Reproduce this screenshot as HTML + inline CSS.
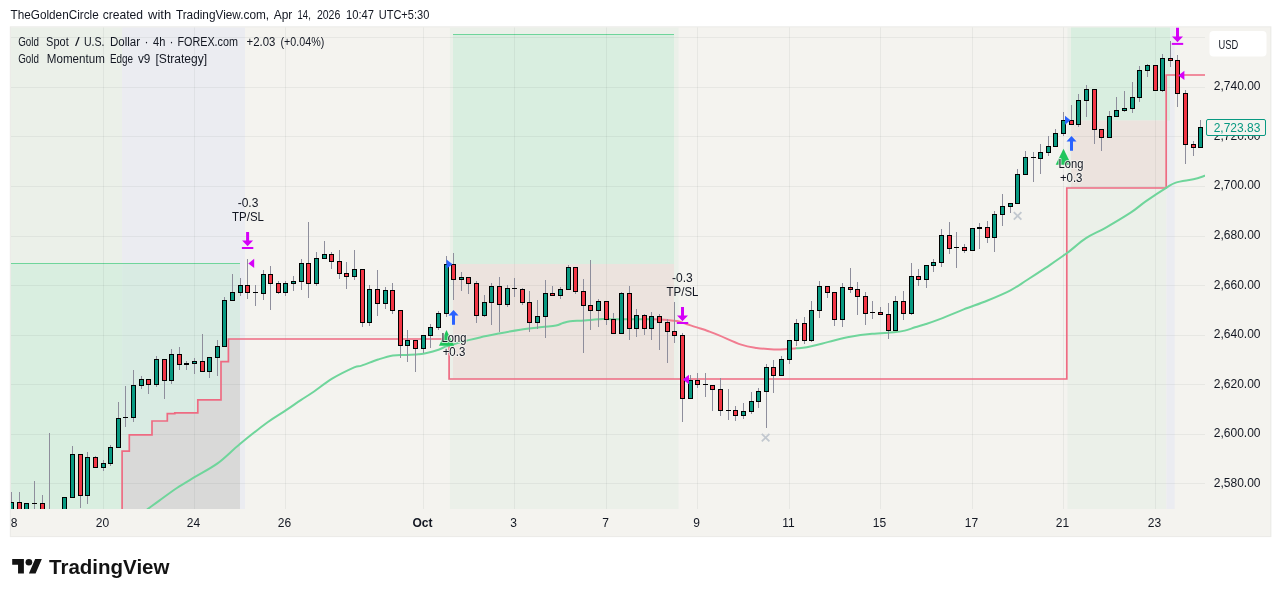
<!DOCTYPE html>
<html><head><meta charset="utf-8"><title>Gold Spot / U.S. Dollar chart</title>
<style>html,body{margin:0;padding:0;background:#fff;}body{width:1281px;height:597px;position:relative;overflow:hidden;font-family:"Liberation Sans",sans-serif;}</style>
</head><body>
<svg width="1281" height="597" viewBox="0 0 1281 597" style="position:absolute;left:0;top:0;will-change:transform" font-family="'Liberation Sans', sans-serif">
<rect x="9.8" y="26.3" width="1261.6" height="510.8" fill="#ecebe8"/>
<rect x="11" y="27.4" width="1259.2" height="508.6" fill="#f4f3ef"/>
<clipPath id="cp"><rect x="11" y="27.4" width="1194" height="481.6"/></clipPath>
<g clip-path="url(#cp)">
<rect x="10" y="27" width="112.1" height="482" fill="#ebf0e9"/>
<rect x="122.1" y="27" width="122.9" height="482" fill="#ebecf1"/>
<rect x="449.9" y="27" width="228.7" height="482" fill="#ebf0e9"/>
<rect x="1067.4" y="27" width="99.1" height="482" fill="#ebf0e9"/>
<rect x="1166.5" y="27" width="8.2" height="482" fill="#ebecf1"/>
<rect x="10" y="263.5" width="112.1" height="245.5" fill="#d9eee0"/>
<rect x="122.1" y="263.5" width="117.9" height="245.5" fill="#d9ebe3"/>
<polygon points="122.1,520.0 122.1,451.2 129.3,451.2 129.3,434.8 152.0,434.8 152.0,421.0 167.3,421.0 167.3,413.7 174.8,413.7 174.8,412.8 197.8,412.8 197.8,399.9 221.0,399.9 221.0,361.7 228.4,361.7 228.4,339.0 240.0,339.0 240.0,520.0" fill="#d9d9d8"/>
<line x1="10" y1="263.5" x2="240.0" y2="263.5" stroke="#6fd59b" stroke-width="1"/>
<rect x="453.0" y="34.5" width="221.0" height="229.5" fill="#d9eee0"/>
<rect x="453.0" y="264" width="221.0" height="115" fill="#ece3de"/>
<line x1="453.0" y1="34.5" x2="674.0" y2="34.5" stroke="#6fd59b" stroke-width="1.2"/>
<rect x="1071.0" y="27" width="99.0" height="93.5" fill="#d9eee0"/>
<rect x="1071.0" y="120.5" width="96.0" height="67.5" fill="#ece3de"/>
<rect x="10" y="37" width="1195" height="1" fill="rgba(20,30,40,0.055)"/>
<rect x="10" y="87" width="1195" height="1" fill="rgba(20,30,40,0.055)"/>
<rect x="10" y="136" width="1195" height="1" fill="rgba(20,30,40,0.055)"/>
<rect x="10" y="186" width="1195" height="1" fill="rgba(20,30,40,0.055)"/>
<rect x="10" y="236" width="1195" height="1" fill="rgba(20,30,40,0.055)"/>
<rect x="10" y="285" width="1195" height="1" fill="rgba(20,30,40,0.055)"/>
<rect x="10" y="335" width="1195" height="1" fill="rgba(20,30,40,0.055)"/>
<rect x="10" y="384" width="1195" height="1" fill="rgba(20,30,40,0.055)"/>
<rect x="10" y="434" width="1195" height="1" fill="rgba(20,30,40,0.055)"/>
<rect x="10" y="483" width="1195" height="1" fill="rgba(20,30,40,0.055)"/>
<rect x="103" y="27" width="1" height="482" fill="rgba(20,30,40,0.055)"/>
<rect x="194" y="27" width="1" height="482" fill="rgba(20,30,40,0.055)"/>
<rect x="285" y="27" width="1" height="482" fill="rgba(20,30,40,0.055)"/>
<rect x="423" y="27" width="1" height="482" fill="rgba(20,30,40,0.055)"/>
<rect x="514" y="27" width="1" height="482" fill="rgba(20,30,40,0.055)"/>
<rect x="606" y="27" width="1" height="482" fill="rgba(20,30,40,0.055)"/>
<rect x="697" y="27" width="1" height="482" fill="rgba(20,30,40,0.055)"/>
<rect x="789" y="27" width="1" height="482" fill="rgba(20,30,40,0.055)"/>
<rect x="880" y="27" width="1" height="482" fill="rgba(20,30,40,0.055)"/>
<rect x="972" y="27" width="1" height="482" fill="rgba(20,30,40,0.055)"/>
<rect x="1063" y="27" width="1" height="482" fill="rgba(20,30,40,0.055)"/>
<rect x="1155" y="27" width="1" height="482" fill="rgba(20,30,40,0.055)"/>
<polyline points="122.1,520.0 122.1,451.2 129.3,451.2 129.3,434.8 152.0,434.8 152.0,421.0 167.3,421.0 167.3,413.7 174.8,413.7 174.8,412.8 197.8,412.8 197.8,399.9 221.0,399.9 221.0,361.7 228.4,361.7 228.4,339.0 449.1,339.0 449.1,379.0 1066.8,379.0 1066.8,188.0 1166.2,188.0 1166.2,75.0 1206.0,75.0" fill="none" stroke="#ee6b82" stroke-width="1.7" stroke-linejoin="miter"/>
<clipPath id="mg1"><rect x="0" y="0" width="654" height="597"/></clipPath>
<clipPath id="mp"><rect x="654" y="0" width="142" height="597"/></clipPath>
<clipPath id="mg2"><rect x="796" y="0" width="1281" height="597"/></clipPath>
<g clip-path="url(#mg1)"><path d="M147.6 509.1C149.6 507.7 154.4 504.1 159.3 500.6C164.2 497.1 171.0 491.9 176.9 488.0C182.8 484.1 187.7 481.3 194.5 477.2C201.3 473.1 210.3 468.6 217.9 463.1C225.5 457.6 231.6 450.8 239.9 444.0C248.2 437.2 259.9 427.9 267.6 422.3C275.3 416.7 280.6 413.9 286.1 410.2C291.6 406.5 296.2 403.2 300.8 400.1C305.4 397.0 308.5 395.4 313.7 391.8C318.9 388.2 325.4 382.8 332.1 378.7C338.9 374.6 349.3 369.6 354.2 367.4C359.1 365.2 357.6 366.9 361.6 365.6C365.6 364.3 373.0 361.2 378.2 359.5C383.4 357.8 388.1 356.2 392.9 355.4C397.6 354.6 402.4 355.1 406.7 354.9C411.0 354.7 415.2 354.5 418.5 354.2C421.8 353.9 423.4 353.8 426.7 353.0C430.0 352.2 435.4 350.7 438.5 349.7C441.6 348.7 442.9 347.6 445.2 346.8C447.4 346.0 448.4 345.7 452.0 344.6C455.6 343.6 462.3 341.7 467.0 340.5C471.7 339.3 474.7 338.5 480.0 337.4C485.3 336.2 491.9 334.9 498.6 333.6C505.3 332.3 513.0 330.8 520.3 329.7C527.5 328.6 536.1 327.8 542.1 327.1C548.1 326.4 552.5 326.2 556.0 325.5C559.5 324.8 560.6 323.7 563.0 323.0C565.4 322.3 566.6 321.6 570.2 321.2C573.8 320.8 579.0 320.9 584.5 320.5C590.0 320.1 597.3 319.3 603.0 319.1C608.7 318.9 612.4 319.3 618.6 319.3C624.8 319.3 634.1 319.3 640.0 319.3C645.9 319.3 649.4 319.2 654.0 319.3C658.6 319.4 663.6 319.7 667.4 320.0C671.2 320.3 673.7 320.4 676.8 321.1C679.9 321.8 682.9 322.9 686.2 324.0C689.6 325.1 693.3 326.2 696.9 327.4C700.5 328.6 703.9 329.6 707.7 331.0C711.5 332.4 714.1 333.3 719.7 335.6C725.3 337.9 735.1 342.6 741.2 344.6C747.3 346.7 751.0 347.1 756.5 347.9C762.0 348.7 768.8 349.2 773.9 349.4C779.0 349.6 783.3 349.2 787.0 349.0C790.7 348.8 792.7 348.6 796.0 348.3C799.3 348.0 801.4 348.4 806.8 347.3C812.2 346.2 821.4 343.7 828.6 341.9C835.9 340.1 843.0 338.0 850.3 336.7C857.5 335.4 864.8 334.5 872.1 333.8C879.4 333.1 888.5 332.8 893.9 332.3C899.3 331.8 901.3 331.4 904.8 330.6C908.3 329.8 911.5 328.4 915.0 327.3C918.5 326.2 922.2 325.2 926.0 324.0C929.8 322.8 931.5 322.3 937.8 319.9C944.1 317.5 955.5 312.6 963.7 309.4C971.9 306.2 979.2 303.9 987.0 300.7C994.8 297.5 1003.8 293.8 1010.5 290.3C1017.2 286.9 1021.1 283.7 1027.0 280.0C1032.8 276.3 1039.0 272.3 1045.6 267.9C1052.2 263.4 1060.0 258.2 1066.7 253.3C1073.4 248.4 1079.5 242.4 1086.0 238.2C1092.5 233.9 1098.1 232.1 1105.5 227.8C1112.9 223.6 1123.9 217.1 1130.6 212.7C1137.3 208.3 1139.8 205.5 1145.7 201.4C1151.6 197.3 1160.8 191.2 1165.8 188.1C1170.8 185.0 1171.2 184.1 1175.8 182.6C1180.4 181.1 1188.6 180.4 1193.4 179.3C1198.2 178.2 1202.8 176.4 1204.7 175.8" fill="none" stroke="#6fd59b" stroke-width="2" stroke-linejoin="round" stroke-linecap="round"/></g>
<g clip-path="url(#mp)"><path d="M147.6 509.1C149.6 507.7 154.4 504.1 159.3 500.6C164.2 497.1 171.0 491.9 176.9 488.0C182.8 484.1 187.7 481.3 194.5 477.2C201.3 473.1 210.3 468.6 217.9 463.1C225.5 457.6 231.6 450.8 239.9 444.0C248.2 437.2 259.9 427.9 267.6 422.3C275.3 416.7 280.6 413.9 286.1 410.2C291.6 406.5 296.2 403.2 300.8 400.1C305.4 397.0 308.5 395.4 313.7 391.8C318.9 388.2 325.4 382.8 332.1 378.7C338.9 374.6 349.3 369.6 354.2 367.4C359.1 365.2 357.6 366.9 361.6 365.6C365.6 364.3 373.0 361.2 378.2 359.5C383.4 357.8 388.1 356.2 392.9 355.4C397.6 354.6 402.4 355.1 406.7 354.9C411.0 354.7 415.2 354.5 418.5 354.2C421.8 353.9 423.4 353.8 426.7 353.0C430.0 352.2 435.4 350.7 438.5 349.7C441.6 348.7 442.9 347.6 445.2 346.8C447.4 346.0 448.4 345.7 452.0 344.6C455.6 343.6 462.3 341.7 467.0 340.5C471.7 339.3 474.7 338.5 480.0 337.4C485.3 336.2 491.9 334.9 498.6 333.6C505.3 332.3 513.0 330.8 520.3 329.7C527.5 328.6 536.1 327.8 542.1 327.1C548.1 326.4 552.5 326.2 556.0 325.5C559.5 324.8 560.6 323.7 563.0 323.0C565.4 322.3 566.6 321.6 570.2 321.2C573.8 320.8 579.0 320.9 584.5 320.5C590.0 320.1 597.3 319.3 603.0 319.1C608.7 318.9 612.4 319.3 618.6 319.3C624.8 319.3 634.1 319.3 640.0 319.3C645.9 319.3 649.4 319.2 654.0 319.3C658.6 319.4 663.6 319.7 667.4 320.0C671.2 320.3 673.7 320.4 676.8 321.1C679.9 321.8 682.9 322.9 686.2 324.0C689.6 325.1 693.3 326.2 696.9 327.4C700.5 328.6 703.9 329.6 707.7 331.0C711.5 332.4 714.1 333.3 719.7 335.6C725.3 337.9 735.1 342.6 741.2 344.6C747.3 346.7 751.0 347.1 756.5 347.9C762.0 348.7 768.8 349.2 773.9 349.4C779.0 349.6 783.3 349.2 787.0 349.0C790.7 348.8 792.7 348.6 796.0 348.3C799.3 348.0 801.4 348.4 806.8 347.3C812.2 346.2 821.4 343.7 828.6 341.9C835.9 340.1 843.0 338.0 850.3 336.7C857.5 335.4 864.8 334.5 872.1 333.8C879.4 333.1 888.5 332.8 893.9 332.3C899.3 331.8 901.3 331.4 904.8 330.6C908.3 329.8 911.5 328.4 915.0 327.3C918.5 326.2 922.2 325.2 926.0 324.0C929.8 322.8 931.5 322.3 937.8 319.9C944.1 317.5 955.5 312.6 963.7 309.4C971.9 306.2 979.2 303.9 987.0 300.7C994.8 297.5 1003.8 293.8 1010.5 290.3C1017.2 286.9 1021.1 283.7 1027.0 280.0C1032.8 276.3 1039.0 272.3 1045.6 267.9C1052.2 263.4 1060.0 258.2 1066.7 253.3C1073.4 248.4 1079.5 242.4 1086.0 238.2C1092.5 233.9 1098.1 232.1 1105.5 227.8C1112.9 223.6 1123.9 217.1 1130.6 212.7C1137.3 208.3 1139.8 205.5 1145.7 201.4C1151.6 197.3 1160.8 191.2 1165.8 188.1C1170.8 185.0 1171.2 184.1 1175.8 182.6C1180.4 181.1 1188.6 180.4 1193.4 179.3C1198.2 178.2 1202.8 176.4 1204.7 175.8" fill="none" stroke="#f17c90" stroke-width="2" stroke-linejoin="round" stroke-linecap="round"/></g>
<g clip-path="url(#mg2)"><path d="M147.6 509.1C149.6 507.7 154.4 504.1 159.3 500.6C164.2 497.1 171.0 491.9 176.9 488.0C182.8 484.1 187.7 481.3 194.5 477.2C201.3 473.1 210.3 468.6 217.9 463.1C225.5 457.6 231.6 450.8 239.9 444.0C248.2 437.2 259.9 427.9 267.6 422.3C275.3 416.7 280.6 413.9 286.1 410.2C291.6 406.5 296.2 403.2 300.8 400.1C305.4 397.0 308.5 395.4 313.7 391.8C318.9 388.2 325.4 382.8 332.1 378.7C338.9 374.6 349.3 369.6 354.2 367.4C359.1 365.2 357.6 366.9 361.6 365.6C365.6 364.3 373.0 361.2 378.2 359.5C383.4 357.8 388.1 356.2 392.9 355.4C397.6 354.6 402.4 355.1 406.7 354.9C411.0 354.7 415.2 354.5 418.5 354.2C421.8 353.9 423.4 353.8 426.7 353.0C430.0 352.2 435.4 350.7 438.5 349.7C441.6 348.7 442.9 347.6 445.2 346.8C447.4 346.0 448.4 345.7 452.0 344.6C455.6 343.6 462.3 341.7 467.0 340.5C471.7 339.3 474.7 338.5 480.0 337.4C485.3 336.2 491.9 334.9 498.6 333.6C505.3 332.3 513.0 330.8 520.3 329.7C527.5 328.6 536.1 327.8 542.1 327.1C548.1 326.4 552.5 326.2 556.0 325.5C559.5 324.8 560.6 323.7 563.0 323.0C565.4 322.3 566.6 321.6 570.2 321.2C573.8 320.8 579.0 320.9 584.5 320.5C590.0 320.1 597.3 319.3 603.0 319.1C608.7 318.9 612.4 319.3 618.6 319.3C624.8 319.3 634.1 319.3 640.0 319.3C645.9 319.3 649.4 319.2 654.0 319.3C658.6 319.4 663.6 319.7 667.4 320.0C671.2 320.3 673.7 320.4 676.8 321.1C679.9 321.8 682.9 322.9 686.2 324.0C689.6 325.1 693.3 326.2 696.9 327.4C700.5 328.6 703.9 329.6 707.7 331.0C711.5 332.4 714.1 333.3 719.7 335.6C725.3 337.9 735.1 342.6 741.2 344.6C747.3 346.7 751.0 347.1 756.5 347.9C762.0 348.7 768.8 349.2 773.9 349.4C779.0 349.6 783.3 349.2 787.0 349.0C790.7 348.8 792.7 348.6 796.0 348.3C799.3 348.0 801.4 348.4 806.8 347.3C812.2 346.2 821.4 343.7 828.6 341.9C835.9 340.1 843.0 338.0 850.3 336.7C857.5 335.4 864.8 334.5 872.1 333.8C879.4 333.1 888.5 332.8 893.9 332.3C899.3 331.8 901.3 331.4 904.8 330.6C908.3 329.8 911.5 328.4 915.0 327.3C918.5 326.2 922.2 325.2 926.0 324.0C929.8 322.8 931.5 322.3 937.8 319.9C944.1 317.5 955.5 312.6 963.7 309.4C971.9 306.2 979.2 303.9 987.0 300.7C994.8 297.5 1003.8 293.8 1010.5 290.3C1017.2 286.9 1021.1 283.7 1027.0 280.0C1032.8 276.3 1039.0 272.3 1045.6 267.9C1052.2 263.4 1060.0 258.2 1066.7 253.3C1073.4 248.4 1079.5 242.4 1086.0 238.2C1092.5 233.9 1098.1 232.1 1105.5 227.8C1112.9 223.6 1123.9 217.1 1130.6 212.7C1137.3 208.3 1139.8 205.5 1145.7 201.4C1151.6 197.3 1160.8 191.2 1165.8 188.1C1170.8 185.0 1171.2 184.1 1175.8 182.6C1180.4 181.1 1188.6 180.4 1193.4 179.3C1198.2 178.2 1202.8 176.4 1204.7 175.8" fill="none" stroke="#6fd59b" stroke-width="2" stroke-linejoin="round" stroke-linecap="round"/></g>
<rect x="11" y="492" width="1" height="23" fill="#8e8e9c"/>
<rect x="9" y="502" width="5" height="13" fill="#000"/>
<rect x="10" y="503" width="3" height="11" fill="#089981"/>
<rect x="19" y="492" width="1" height="23" fill="#8e8e9c"/>
<rect x="17" y="502" width="5" height="13" fill="#000"/>
<rect x="18" y="503" width="3" height="11" fill="#f23645"/>
<rect x="26" y="503" width="1" height="12" fill="#8e8e9c"/>
<rect x="24" y="503" width="5" height="12" fill="#000"/>
<rect x="25" y="504" width="3" height="10" fill="#089981"/>
<rect x="34" y="481" width="1" height="34" fill="#8e8e9c"/>
<rect x="32" y="503" width="5" height="1" fill="#000"/>
<rect x="42" y="495" width="1" height="20" fill="#8e8e9c"/>
<rect x="40" y="503" width="5" height="12" fill="#000"/>
<rect x="41" y="504" width="3" height="10" fill="#f23645"/>
<rect x="49" y="433" width="1" height="82" fill="#8e8e9c"/>
<rect x="47" y="520" width="5" height="1" fill="#000"/>
<rect x="64" y="497" width="1" height="18" fill="#8e8e9c"/>
<rect x="62" y="497" width="5" height="18" fill="#000"/>
<rect x="63" y="498" width="3" height="16" fill="#089981"/>
<rect x="72" y="446" width="1" height="52" fill="#8e8e9c"/>
<rect x="70" y="454" width="5" height="44" fill="#000"/>
<rect x="71" y="455" width="3" height="42" fill="#089981"/>
<rect x="80" y="454" width="1" height="54" fill="#8e8e9c"/>
<rect x="78" y="454" width="5" height="42" fill="#000"/>
<rect x="79" y="455" width="3" height="40" fill="#f23645"/>
<rect x="87" y="452" width="1" height="52" fill="#8e8e9c"/>
<rect x="85" y="457" width="5" height="39" fill="#000"/>
<rect x="86" y="458" width="3" height="37" fill="#089981"/>
<rect x="95" y="456" width="1" height="12" fill="#8e8e9c"/>
<rect x="93" y="457" width="5" height="11" fill="#000"/>
<rect x="94" y="458" width="3" height="9" fill="#f23645"/>
<rect x="103" y="460" width="1" height="11" fill="#8e8e9c"/>
<rect x="101" y="463" width="5" height="5" fill="#000"/>
<rect x="102" y="464" width="3" height="3" fill="#089981"/>
<rect x="110" y="445" width="1" height="21" fill="#8e8e9c"/>
<rect x="108" y="447" width="5" height="17" fill="#000"/>
<rect x="109" y="448" width="3" height="15" fill="#089981"/>
<rect x="118" y="402" width="1" height="46" fill="#8e8e9c"/>
<rect x="116" y="418" width="5" height="30" fill="#000"/>
<rect x="117" y="419" width="3" height="28" fill="#089981"/>
<rect x="125" y="386" width="1" height="41" fill="#8e8e9c"/>
<rect x="123" y="417" width="5" height="1" fill="#000"/>
<rect x="133" y="370" width="1" height="52" fill="#8e8e9c"/>
<rect x="131" y="385" width="5" height="33" fill="#000"/>
<rect x="132" y="386" width="3" height="31" fill="#089981"/>
<rect x="141" y="376" width="1" height="13" fill="#8e8e9c"/>
<rect x="139" y="379" width="5" height="7" fill="#000"/>
<rect x="140" y="380" width="3" height="5" fill="#089981"/>
<rect x="148" y="379" width="1" height="15" fill="#8e8e9c"/>
<rect x="146" y="379" width="5" height="6" fill="#000"/>
<rect x="147" y="380" width="3" height="4" fill="#f23645"/>
<rect x="156" y="356" width="1" height="31" fill="#8e8e9c"/>
<rect x="154" y="359" width="5" height="26" fill="#000"/>
<rect x="155" y="360" width="3" height="24" fill="#089981"/>
<rect x="164" y="359" width="1" height="40" fill="#8e8e9c"/>
<rect x="162" y="359" width="5" height="22" fill="#000"/>
<rect x="163" y="360" width="3" height="20" fill="#f23645"/>
<rect x="171" y="349" width="1" height="35" fill="#8e8e9c"/>
<rect x="169" y="354" width="5" height="27" fill="#000"/>
<rect x="170" y="355" width="3" height="25" fill="#089981"/>
<rect x="179" y="347" width="1" height="23" fill="#8e8e9c"/>
<rect x="177" y="354" width="5" height="11" fill="#000"/>
<rect x="178" y="355" width="3" height="9" fill="#f23645"/>
<rect x="186" y="361" width="1" height="9" fill="#8e8e9c"/>
<rect x="184" y="363" width="5" height="2" fill="#000"/>
<rect x="194" y="358" width="1" height="16" fill="#8e8e9c"/>
<rect x="192" y="361" width="5" height="3" fill="#000"/>
<rect x="193" y="362" width="3" height="1" fill="#089981"/>
<rect x="202" y="334" width="1" height="38" fill="#8e8e9c"/>
<rect x="200" y="361" width="5" height="11" fill="#000"/>
<rect x="201" y="362" width="3" height="9" fill="#f23645"/>
<rect x="209" y="357" width="1" height="21" fill="#8e8e9c"/>
<rect x="207" y="357" width="5" height="15" fill="#000"/>
<rect x="208" y="358" width="3" height="13" fill="#089981"/>
<rect x="217" y="340" width="1" height="36" fill="#8e8e9c"/>
<rect x="215" y="346" width="5" height="12" fill="#000"/>
<rect x="216" y="347" width="3" height="10" fill="#089981"/>
<rect x="224" y="297" width="1" height="50" fill="#8e8e9c"/>
<rect x="222" y="300" width="5" height="47" fill="#000"/>
<rect x="223" y="301" width="3" height="45" fill="#089981"/>
<rect x="232" y="274" width="1" height="27" fill="#8e8e9c"/>
<rect x="230" y="292" width="5" height="9" fill="#000"/>
<rect x="231" y="293" width="3" height="7" fill="#089981"/>
<rect x="240" y="278" width="1" height="18" fill="#8e8e9c"/>
<rect x="238" y="285" width="5" height="8" fill="#000"/>
<rect x="239" y="286" width="3" height="6" fill="#089981"/>
<rect x="247" y="259" width="1" height="40" fill="#8e8e9c"/>
<rect x="245" y="285" width="5" height="8" fill="#000"/>
<rect x="246" y="286" width="3" height="6" fill="#f23645"/>
<rect x="255" y="285" width="1" height="21" fill="#8e8e9c"/>
<rect x="253" y="292" width="5" height="1" fill="#000"/>
<rect x="263" y="270" width="1" height="30" fill="#8e8e9c"/>
<rect x="261" y="274" width="5" height="20" fill="#000"/>
<rect x="262" y="275" width="3" height="18" fill="#089981"/>
<rect x="270" y="266" width="1" height="44" fill="#8e8e9c"/>
<rect x="268" y="274" width="5" height="10" fill="#000"/>
<rect x="269" y="275" width="3" height="8" fill="#f23645"/>
<rect x="278" y="281" width="1" height="13" fill="#8e8e9c"/>
<rect x="276" y="283" width="5" height="10" fill="#000"/>
<rect x="277" y="284" width="3" height="8" fill="#f23645"/>
<rect x="285" y="281" width="1" height="15" fill="#8e8e9c"/>
<rect x="283" y="283" width="5" height="10" fill="#000"/>
<rect x="284" y="284" width="3" height="8" fill="#089981"/>
<rect x="293" y="276" width="1" height="15" fill="#8e8e9c"/>
<rect x="291" y="281" width="5" height="3" fill="#000"/>
<rect x="292" y="282" width="3" height="1" fill="#089981"/>
<rect x="301" y="259" width="1" height="31" fill="#8e8e9c"/>
<rect x="299" y="263" width="5" height="19" fill="#000"/>
<rect x="300" y="264" width="3" height="17" fill="#089981"/>
<rect x="308" y="222" width="1" height="76" fill="#8e8e9c"/>
<rect x="306" y="263" width="5" height="21" fill="#000"/>
<rect x="307" y="264" width="3" height="19" fill="#f23645"/>
<rect x="316" y="252" width="1" height="34" fill="#8e8e9c"/>
<rect x="314" y="258" width="5" height="26" fill="#000"/>
<rect x="315" y="259" width="3" height="24" fill="#089981"/>
<rect x="324" y="241" width="1" height="18" fill="#8e8e9c"/>
<rect x="322" y="254" width="5" height="5" fill="#000"/>
<rect x="323" y="255" width="3" height="3" fill="#089981"/>
<rect x="331" y="252" width="1" height="17" fill="#8e8e9c"/>
<rect x="329" y="254" width="5" height="8" fill="#000"/>
<rect x="330" y="255" width="3" height="6" fill="#f23645"/>
<rect x="339" y="250" width="1" height="29" fill="#8e8e9c"/>
<rect x="337" y="261" width="5" height="13" fill="#000"/>
<rect x="338" y="262" width="3" height="11" fill="#f23645"/>
<rect x="346" y="262" width="1" height="27" fill="#8e8e9c"/>
<rect x="344" y="273" width="5" height="4" fill="#000"/>
<rect x="345" y="274" width="3" height="2" fill="#f23645"/>
<rect x="354" y="250" width="1" height="30" fill="#8e8e9c"/>
<rect x="352" y="269" width="5" height="8" fill="#000"/>
<rect x="353" y="270" width="3" height="6" fill="#089981"/>
<rect x="362" y="269" width="1" height="58" fill="#8e8e9c"/>
<rect x="360" y="269" width="5" height="54" fill="#000"/>
<rect x="361" y="270" width="3" height="52" fill="#f23645"/>
<rect x="369" y="285" width="1" height="41" fill="#8e8e9c"/>
<rect x="367" y="289" width="5" height="34" fill="#000"/>
<rect x="368" y="290" width="3" height="32" fill="#089981"/>
<rect x="377" y="270" width="1" height="46" fill="#8e8e9c"/>
<rect x="375" y="289" width="5" height="15" fill="#000"/>
<rect x="376" y="290" width="3" height="13" fill="#f23645"/>
<rect x="385" y="287" width="1" height="22" fill="#8e8e9c"/>
<rect x="383" y="290" width="5" height="14" fill="#000"/>
<rect x="384" y="291" width="3" height="12" fill="#089981"/>
<rect x="392" y="283" width="1" height="31" fill="#8e8e9c"/>
<rect x="390" y="290" width="5" height="21" fill="#000"/>
<rect x="391" y="291" width="3" height="19" fill="#f23645"/>
<rect x="400" y="310" width="1" height="48" fill="#8e8e9c"/>
<rect x="398" y="310" width="5" height="36" fill="#000"/>
<rect x="399" y="311" width="3" height="34" fill="#f23645"/>
<rect x="407" y="330" width="1" height="32" fill="#8e8e9c"/>
<rect x="405" y="340" width="5" height="6" fill="#000"/>
<rect x="406" y="341" width="3" height="4" fill="#089981"/>
<rect x="415" y="340" width="1" height="32" fill="#8e8e9c"/>
<rect x="413" y="340" width="5" height="9" fill="#000"/>
<rect x="414" y="341" width="3" height="7" fill="#f23645"/>
<rect x="423" y="335" width="1" height="18" fill="#8e8e9c"/>
<rect x="421" y="335" width="5" height="14" fill="#000"/>
<rect x="422" y="336" width="3" height="12" fill="#089981"/>
<rect x="430" y="324" width="1" height="24" fill="#8e8e9c"/>
<rect x="428" y="327" width="5" height="9" fill="#000"/>
<rect x="429" y="328" width="3" height="7" fill="#089981"/>
<rect x="438" y="311" width="1" height="19" fill="#8e8e9c"/>
<rect x="436" y="313" width="5" height="15" fill="#000"/>
<rect x="437" y="314" width="3" height="13" fill="#089981"/>
<rect x="446" y="256" width="1" height="61" fill="#8e8e9c"/>
<rect x="444" y="264" width="5" height="50" fill="#000"/>
<rect x="445" y="265" width="3" height="48" fill="#089981"/>
<rect x="453" y="253" width="1" height="47" fill="#8e8e9c"/>
<rect x="451" y="264" width="5" height="16" fill="#000"/>
<rect x="452" y="265" width="3" height="14" fill="#f23645"/>
<rect x="461" y="272" width="1" height="19" fill="#8e8e9c"/>
<rect x="459" y="277" width="5" height="3" fill="#000"/>
<rect x="460" y="278" width="3" height="1" fill="#089981"/>
<rect x="468" y="277" width="1" height="17" fill="#8e8e9c"/>
<rect x="466" y="277" width="5" height="7" fill="#000"/>
<rect x="467" y="278" width="3" height="5" fill="#f23645"/>
<rect x="476" y="281" width="1" height="42" fill="#8e8e9c"/>
<rect x="474" y="283" width="5" height="33" fill="#000"/>
<rect x="475" y="284" width="3" height="31" fill="#f23645"/>
<rect x="484" y="295" width="1" height="22" fill="#8e8e9c"/>
<rect x="482" y="302" width="5" height="14" fill="#000"/>
<rect x="483" y="303" width="3" height="12" fill="#089981"/>
<rect x="491" y="283" width="1" height="42" fill="#8e8e9c"/>
<rect x="489" y="286" width="5" height="17" fill="#000"/>
<rect x="490" y="287" width="3" height="15" fill="#089981"/>
<rect x="499" y="277" width="1" height="55" fill="#8e8e9c"/>
<rect x="497" y="286" width="5" height="19" fill="#000"/>
<rect x="498" y="287" width="3" height="17" fill="#f23645"/>
<rect x="507" y="285" width="1" height="22" fill="#8e8e9c"/>
<rect x="505" y="288" width="5" height="17" fill="#000"/>
<rect x="506" y="289" width="3" height="15" fill="#089981"/>
<rect x="514" y="278" width="1" height="19" fill="#8e8e9c"/>
<rect x="512" y="288" width="5" height="1" fill="#000"/>
<rect x="522" y="288" width="1" height="17" fill="#8e8e9c"/>
<rect x="520" y="289" width="5" height="14" fill="#000"/>
<rect x="521" y="290" width="3" height="12" fill="#f23645"/>
<rect x="529" y="291" width="1" height="41" fill="#8e8e9c"/>
<rect x="527" y="302" width="5" height="21" fill="#000"/>
<rect x="528" y="303" width="3" height="19" fill="#f23645"/>
<rect x="537" y="300" width="1" height="29" fill="#8e8e9c"/>
<rect x="535" y="316" width="5" height="7" fill="#000"/>
<rect x="536" y="317" width="3" height="5" fill="#089981"/>
<rect x="545" y="280" width="1" height="58" fill="#8e8e9c"/>
<rect x="543" y="293" width="5" height="24" fill="#000"/>
<rect x="544" y="294" width="3" height="22" fill="#089981"/>
<rect x="552" y="286" width="1" height="10" fill="#8e8e9c"/>
<rect x="550" y="293" width="5" height="3" fill="#000"/>
<rect x="551" y="294" width="3" height="1" fill="#f23645"/>
<rect x="560" y="287" width="1" height="12" fill="#8e8e9c"/>
<rect x="558" y="289" width="5" height="7" fill="#000"/>
<rect x="559" y="290" width="3" height="5" fill="#089981"/>
<rect x="568" y="265" width="1" height="25" fill="#8e8e9c"/>
<rect x="566" y="267" width="5" height="23" fill="#000"/>
<rect x="567" y="268" width="3" height="21" fill="#089981"/>
<rect x="575" y="267" width="1" height="27" fill="#8e8e9c"/>
<rect x="573" y="267" width="5" height="25" fill="#000"/>
<rect x="574" y="268" width="3" height="23" fill="#f23645"/>
<rect x="583" y="279" width="1" height="74" fill="#8e8e9c"/>
<rect x="581" y="291" width="5" height="15" fill="#000"/>
<rect x="582" y="292" width="3" height="13" fill="#f23645"/>
<rect x="590" y="260" width="1" height="70" fill="#8e8e9c"/>
<rect x="588" y="305" width="5" height="6" fill="#000"/>
<rect x="589" y="306" width="3" height="4" fill="#f23645"/>
<rect x="598" y="299" width="1" height="28" fill="#8e8e9c"/>
<rect x="596" y="301" width="5" height="10" fill="#000"/>
<rect x="597" y="302" width="3" height="8" fill="#089981"/>
<rect x="606" y="301" width="1" height="24" fill="#8e8e9c"/>
<rect x="604" y="301" width="5" height="19" fill="#000"/>
<rect x="605" y="302" width="3" height="17" fill="#f23645"/>
<rect x="613" y="313" width="1" height="21" fill="#8e8e9c"/>
<rect x="611" y="319" width="5" height="15" fill="#000"/>
<rect x="612" y="320" width="3" height="13" fill="#f23645"/>
<rect x="621" y="292" width="1" height="42" fill="#8e8e9c"/>
<rect x="619" y="293" width="5" height="41" fill="#000"/>
<rect x="620" y="294" width="3" height="39" fill="#089981"/>
<rect x="629" y="286" width="1" height="54" fill="#8e8e9c"/>
<rect x="627" y="293" width="5" height="36" fill="#000"/>
<rect x="628" y="294" width="3" height="34" fill="#f23645"/>
<rect x="636" y="309" width="1" height="28" fill="#8e8e9c"/>
<rect x="634" y="315" width="5" height="14" fill="#000"/>
<rect x="635" y="316" width="3" height="12" fill="#089981"/>
<rect x="644" y="314" width="1" height="21" fill="#8e8e9c"/>
<rect x="642" y="315" width="5" height="14" fill="#000"/>
<rect x="643" y="316" width="3" height="12" fill="#f23645"/>
<rect x="651" y="312" width="1" height="28" fill="#8e8e9c"/>
<rect x="649" y="316" width="5" height="13" fill="#000"/>
<rect x="650" y="317" width="3" height="11" fill="#089981"/>
<rect x="659" y="314" width="1" height="36" fill="#8e8e9c"/>
<rect x="657" y="316" width="5" height="7" fill="#000"/>
<rect x="658" y="317" width="3" height="5" fill="#f23645"/>
<rect x="667" y="319" width="1" height="44" fill="#8e8e9c"/>
<rect x="665" y="322" width="5" height="10" fill="#000"/>
<rect x="666" y="323" width="3" height="8" fill="#f23645"/>
<rect x="674" y="302" width="1" height="41" fill="#8e8e9c"/>
<rect x="672" y="331" width="5" height="5" fill="#000"/>
<rect x="673" y="332" width="3" height="3" fill="#f23645"/>
<rect x="682" y="333" width="1" height="89" fill="#8e8e9c"/>
<rect x="680" y="335" width="5" height="64" fill="#000"/>
<rect x="681" y="336" width="3" height="62" fill="#f23645"/>
<rect x="690" y="375" width="1" height="24" fill="#8e8e9c"/>
<rect x="688" y="380" width="5" height="19" fill="#000"/>
<rect x="689" y="381" width="3" height="17" fill="#089981"/>
<rect x="697" y="373" width="1" height="15" fill="#8e8e9c"/>
<rect x="695" y="380" width="5" height="5" fill="#000"/>
<rect x="696" y="381" width="3" height="3" fill="#f23645"/>
<rect x="705" y="373" width="1" height="24" fill="#8e8e9c"/>
<rect x="703" y="384" width="5" height="1" fill="#000"/>
<rect x="712" y="385" width="1" height="26" fill="#8e8e9c"/>
<rect x="710" y="385" width="5" height="5" fill="#000"/>
<rect x="711" y="386" width="3" height="3" fill="#f23645"/>
<rect x="720" y="378" width="1" height="38" fill="#8e8e9c"/>
<rect x="718" y="389" width="5" height="22" fill="#000"/>
<rect x="719" y="390" width="3" height="20" fill="#f23645"/>
<rect x="728" y="389" width="1" height="31" fill="#8e8e9c"/>
<rect x="726" y="410" width="5" height="1" fill="#000"/>
<rect x="735" y="406" width="1" height="15" fill="#8e8e9c"/>
<rect x="733" y="410" width="5" height="6" fill="#000"/>
<rect x="734" y="411" width="3" height="4" fill="#f23645"/>
<rect x="743" y="403" width="1" height="16" fill="#8e8e9c"/>
<rect x="741" y="411" width="5" height="5" fill="#000"/>
<rect x="742" y="412" width="3" height="3" fill="#089981"/>
<rect x="751" y="392" width="1" height="22" fill="#8e8e9c"/>
<rect x="749" y="401" width="5" height="11" fill="#000"/>
<rect x="750" y="402" width="3" height="9" fill="#089981"/>
<rect x="758" y="388" width="1" height="20" fill="#8e8e9c"/>
<rect x="756" y="391" width="5" height="11" fill="#000"/>
<rect x="757" y="392" width="3" height="9" fill="#089981"/>
<rect x="766" y="364" width="1" height="64" fill="#8e8e9c"/>
<rect x="764" y="367" width="5" height="25" fill="#000"/>
<rect x="765" y="368" width="3" height="23" fill="#089981"/>
<rect x="773" y="360" width="1" height="33" fill="#8e8e9c"/>
<rect x="771" y="367" width="5" height="9" fill="#000"/>
<rect x="772" y="368" width="3" height="7" fill="#f23645"/>
<rect x="781" y="356" width="1" height="20" fill="#8e8e9c"/>
<rect x="779" y="359" width="5" height="17" fill="#000"/>
<rect x="780" y="360" width="3" height="15" fill="#089981"/>
<rect x="789" y="340" width="1" height="24" fill="#8e8e9c"/>
<rect x="787" y="340" width="5" height="20" fill="#000"/>
<rect x="788" y="341" width="3" height="18" fill="#089981"/>
<rect x="796" y="319" width="1" height="27" fill="#8e8e9c"/>
<rect x="794" y="323" width="5" height="18" fill="#000"/>
<rect x="795" y="324" width="3" height="16" fill="#089981"/>
<rect x="804" y="317" width="1" height="27" fill="#8e8e9c"/>
<rect x="802" y="323" width="5" height="18" fill="#000"/>
<rect x="803" y="324" width="3" height="16" fill="#f23645"/>
<rect x="811" y="301" width="1" height="41" fill="#8e8e9c"/>
<rect x="809" y="310" width="5" height="31" fill="#000"/>
<rect x="810" y="311" width="3" height="29" fill="#089981"/>
<rect x="819" y="281" width="1" height="37" fill="#8e8e9c"/>
<rect x="817" y="286" width="5" height="25" fill="#000"/>
<rect x="818" y="287" width="3" height="23" fill="#089981"/>
<rect x="827" y="286" width="1" height="12" fill="#8e8e9c"/>
<rect x="825" y="286" width="5" height="7" fill="#000"/>
<rect x="826" y="287" width="3" height="5" fill="#f23645"/>
<rect x="834" y="292" width="1" height="34" fill="#8e8e9c"/>
<rect x="832" y="292" width="5" height="28" fill="#000"/>
<rect x="833" y="293" width="3" height="26" fill="#f23645"/>
<rect x="842" y="283" width="1" height="44" fill="#8e8e9c"/>
<rect x="840" y="287" width="5" height="33" fill="#000"/>
<rect x="841" y="288" width="3" height="31" fill="#089981"/>
<rect x="850" y="268" width="1" height="25" fill="#8e8e9c"/>
<rect x="848" y="287" width="5" height="3" fill="#000"/>
<rect x="849" y="288" width="3" height="1" fill="#f23645"/>
<rect x="857" y="282" width="1" height="33" fill="#8e8e9c"/>
<rect x="855" y="289" width="5" height="8" fill="#000"/>
<rect x="856" y="290" width="3" height="6" fill="#f23645"/>
<rect x="865" y="292" width="1" height="33" fill="#8e8e9c"/>
<rect x="863" y="296" width="5" height="18" fill="#000"/>
<rect x="864" y="297" width="3" height="16" fill="#f23645"/>
<rect x="872" y="301" width="1" height="18" fill="#8e8e9c"/>
<rect x="870" y="312" width="5" height="1" fill="#000"/>
<rect x="880" y="307" width="1" height="8" fill="#8e8e9c"/>
<rect x="878" y="312" width="5" height="3" fill="#000"/>
<rect x="879" y="313" width="3" height="1" fill="#f23645"/>
<rect x="888" y="303" width="1" height="36" fill="#8e8e9c"/>
<rect x="886" y="314" width="5" height="17" fill="#000"/>
<rect x="887" y="315" width="3" height="15" fill="#f23645"/>
<rect x="895" y="296" width="1" height="35" fill="#8e8e9c"/>
<rect x="893" y="301" width="5" height="30" fill="#000"/>
<rect x="894" y="302" width="3" height="28" fill="#089981"/>
<rect x="903" y="291" width="1" height="29" fill="#8e8e9c"/>
<rect x="901" y="301" width="5" height="13" fill="#000"/>
<rect x="902" y="302" width="3" height="11" fill="#f23645"/>
<rect x="911" y="263" width="1" height="52" fill="#8e8e9c"/>
<rect x="909" y="276" width="5" height="38" fill="#000"/>
<rect x="910" y="277" width="3" height="36" fill="#089981"/>
<rect x="918" y="269" width="1" height="17" fill="#8e8e9c"/>
<rect x="916" y="276" width="5" height="4" fill="#000"/>
<rect x="917" y="277" width="3" height="2" fill="#f23645"/>
<rect x="926" y="265" width="1" height="23" fill="#8e8e9c"/>
<rect x="924" y="265" width="5" height="15" fill="#000"/>
<rect x="925" y="266" width="3" height="13" fill="#089981"/>
<rect x="933" y="259" width="1" height="13" fill="#8e8e9c"/>
<rect x="931" y="262" width="5" height="4" fill="#000"/>
<rect x="932" y="263" width="3" height="2" fill="#089981"/>
<rect x="941" y="229" width="1" height="38" fill="#8e8e9c"/>
<rect x="939" y="235" width="5" height="28" fill="#000"/>
<rect x="940" y="236" width="3" height="26" fill="#089981"/>
<rect x="949" y="222" width="1" height="32" fill="#8e8e9c"/>
<rect x="947" y="235" width="5" height="14" fill="#000"/>
<rect x="948" y="236" width="3" height="12" fill="#f23645"/>
<rect x="956" y="232" width="1" height="36" fill="#8e8e9c"/>
<rect x="954" y="247" width="5" height="1" fill="#000"/>
<rect x="964" y="244" width="1" height="9" fill="#8e8e9c"/>
<rect x="962" y="247" width="5" height="4" fill="#000"/>
<rect x="963" y="248" width="3" height="2" fill="#f23645"/>
<rect x="972" y="228" width="1" height="23" fill="#8e8e9c"/>
<rect x="970" y="228" width="5" height="23" fill="#000"/>
<rect x="971" y="229" width="3" height="21" fill="#089981"/>
<rect x="979" y="223" width="1" height="26" fill="#8e8e9c"/>
<rect x="977" y="227" width="5" height="2" fill="#000"/>
<rect x="987" y="221" width="1" height="22" fill="#8e8e9c"/>
<rect x="985" y="227" width="5" height="11" fill="#000"/>
<rect x="986" y="228" width="3" height="9" fill="#f23645"/>
<rect x="994" y="211" width="1" height="41" fill="#8e8e9c"/>
<rect x="992" y="214" width="5" height="24" fill="#000"/>
<rect x="993" y="215" width="3" height="22" fill="#089981"/>
<rect x="1002" y="194" width="1" height="32" fill="#8e8e9c"/>
<rect x="1000" y="206" width="5" height="9" fill="#000"/>
<rect x="1001" y="207" width="3" height="7" fill="#089981"/>
<rect x="1010" y="203" width="1" height="10" fill="#8e8e9c"/>
<rect x="1008" y="203" width="5" height="4" fill="#000"/>
<rect x="1009" y="204" width="3" height="2" fill="#089981"/>
<rect x="1017" y="169" width="1" height="35" fill="#8e8e9c"/>
<rect x="1015" y="174" width="5" height="30" fill="#000"/>
<rect x="1016" y="175" width="3" height="28" fill="#089981"/>
<rect x="1025" y="151" width="1" height="24" fill="#8e8e9c"/>
<rect x="1023" y="157" width="5" height="18" fill="#000"/>
<rect x="1024" y="158" width="3" height="16" fill="#089981"/>
<rect x="1033" y="152" width="1" height="30" fill="#8e8e9c"/>
<rect x="1031" y="157" width="5" height="1" fill="#000"/>
<rect x="1040" y="144" width="1" height="30" fill="#8e8e9c"/>
<rect x="1038" y="152" width="5" height="7" fill="#000"/>
<rect x="1039" y="153" width="3" height="5" fill="#089981"/>
<rect x="1048" y="136" width="1" height="20" fill="#8e8e9c"/>
<rect x="1046" y="146" width="5" height="7" fill="#000"/>
<rect x="1047" y="147" width="3" height="5" fill="#089981"/>
<rect x="1055" y="129" width="1" height="18" fill="#8e8e9c"/>
<rect x="1053" y="133" width="5" height="14" fill="#000"/>
<rect x="1054" y="134" width="3" height="12" fill="#089981"/>
<rect x="1063" y="112" width="1" height="24" fill="#8e8e9c"/>
<rect x="1061" y="120" width="5" height="14" fill="#000"/>
<rect x="1062" y="121" width="3" height="12" fill="#089981"/>
<rect x="1071" y="105" width="1" height="20" fill="#8e8e9c"/>
<rect x="1069" y="120" width="5" height="5" fill="#000"/>
<rect x="1070" y="121" width="3" height="3" fill="#f23645"/>
<rect x="1078" y="94" width="1" height="33" fill="#8e8e9c"/>
<rect x="1076" y="100" width="5" height="25" fill="#000"/>
<rect x="1077" y="101" width="3" height="23" fill="#089981"/>
<rect x="1086" y="85" width="1" height="32" fill="#8e8e9c"/>
<rect x="1084" y="89" width="5" height="12" fill="#000"/>
<rect x="1085" y="90" width="3" height="10" fill="#089981"/>
<rect x="1094" y="89" width="1" height="55" fill="#8e8e9c"/>
<rect x="1092" y="89" width="5" height="41" fill="#000"/>
<rect x="1093" y="90" width="3" height="39" fill="#f23645"/>
<rect x="1101" y="129" width="1" height="22" fill="#8e8e9c"/>
<rect x="1099" y="129" width="5" height="9" fill="#000"/>
<rect x="1100" y="130" width="3" height="7" fill="#f23645"/>
<rect x="1109" y="111" width="1" height="27" fill="#8e8e9c"/>
<rect x="1107" y="116" width="5" height="22" fill="#000"/>
<rect x="1108" y="117" width="3" height="20" fill="#089981"/>
<rect x="1116" y="97" width="1" height="20" fill="#8e8e9c"/>
<rect x="1114" y="110" width="5" height="7" fill="#000"/>
<rect x="1115" y="111" width="3" height="5" fill="#089981"/>
<rect x="1124" y="91" width="1" height="21" fill="#8e8e9c"/>
<rect x="1122" y="108" width="5" height="3" fill="#000"/>
<rect x="1123" y="109" width="3" height="1" fill="#089981"/>
<rect x="1132" y="82" width="1" height="31" fill="#8e8e9c"/>
<rect x="1130" y="97" width="5" height="12" fill="#000"/>
<rect x="1131" y="98" width="3" height="10" fill="#089981"/>
<rect x="1139" y="66" width="1" height="36" fill="#8e8e9c"/>
<rect x="1137" y="70" width="5" height="28" fill="#000"/>
<rect x="1138" y="71" width="3" height="26" fill="#089981"/>
<rect x="1147" y="64" width="1" height="13" fill="#8e8e9c"/>
<rect x="1145" y="65" width="5" height="6" fill="#000"/>
<rect x="1146" y="66" width="3" height="4" fill="#089981"/>
<rect x="1155" y="65" width="1" height="26" fill="#8e8e9c"/>
<rect x="1153" y="65" width="5" height="26" fill="#000"/>
<rect x="1154" y="66" width="3" height="24" fill="#f23645"/>
<rect x="1162" y="54" width="1" height="38" fill="#8e8e9c"/>
<rect x="1160" y="58" width="5" height="33" fill="#000"/>
<rect x="1161" y="59" width="3" height="31" fill="#089981"/>
<rect x="1170" y="41" width="1" height="26" fill="#8e8e9c"/>
<rect x="1168" y="58" width="5" height="3" fill="#000"/>
<rect x="1169" y="59" width="3" height="1" fill="#f23645"/>
<rect x="1177" y="55" width="1" height="52" fill="#8e8e9c"/>
<rect x="1175" y="60" width="5" height="34" fill="#000"/>
<rect x="1176" y="61" width="3" height="32" fill="#f23645"/>
<rect x="1185" y="90" width="1" height="74" fill="#8e8e9c"/>
<rect x="1183" y="93" width="5" height="52" fill="#000"/>
<rect x="1184" y="94" width="3" height="50" fill="#f23645"/>
<rect x="1193" y="141" width="1" height="15" fill="#8e8e9c"/>
<rect x="1191" y="144" width="5" height="4" fill="#000"/>
<rect x="1192" y="145" width="3" height="2" fill="#f23645"/>
<rect x="1200" y="120" width="1" height="28" fill="#8e8e9c"/>
<rect x="1198" y="127" width="5" height="21" fill="#000"/>
<rect x="1199" y="128" width="3" height="19" fill="#089981"/>
<path d="M761.8 433.8L769.4 441.4M769.4 433.8L761.8 441.4" stroke="#c2c8cf" stroke-width="1.8" fill="none"/>
<path d="M1013.8 212.1L1021.4 219.7M1021.4 212.1L1013.8 219.7" stroke="#c2c8cf" stroke-width="1.8" fill="none"/>
<path d="M246.1 232H249.1V240.5H253.1L247.6 246.3L242.1 240.5H246.1Z" fill="#d500f9"/><rect x="241.9" y="247.0" width="11.4" height="2" fill="#d500f9"/>
<path d="M248.3 263.4L254.2 258.79999999999995V268.0Z" fill="#d500f9"/>
<path d="M681.0 307H684.0V315.5H688.0L682.5 321.3L677.0 315.5H681.0Z" fill="#d500f9"/><rect x="676.8" y="322.0" width="11.4" height="2" fill="#d500f9"/>
<path d="M682.7 379.5L689 374.7V384.3Z" fill="#d500f9"/>
<path d="M1176.0 27.5H1179.0V36.400000000000006H1183.0L1177.5 42.2L1172.0 36.400000000000006H1176.0Z" fill="#d500f9"/><rect x="1171.8" y="42.900000000000006" width="11.4" height="2" fill="#d500f9"/>
<path d="M1178.3 75.4L1184.4 70.7V80.10000000000001Z" fill="#d500f9"/>
<path d="M452.5 264.2L446.5 259.59999999999997V268.8Z" fill="#2962ff"/>
<path d="M1070.5 120.3L1065 115.8V124.8Z" fill="#2962ff"/>
<path d="M453.5 310L458.5 315.5H455.0V324.7H452.0V315.5H448.5Z" fill="#2962ff"/>
<path d="M1071.5 136L1076.5 141.5H1073.0V150.8H1070.0V141.5H1066.5Z" fill="#2962ff"/>
<path d="M446.5 330L454.0 345.8H439.0Z" fill="#1fc65c"/>
<path d="M1063.5 148.8L1071.3 164.8H1055.7Z" fill="#1fc65c"/>
<text x="237.7" y="206.8" font-size="12" textLength="20.7" lengthAdjust="spacingAndGlyphs" fill="#131722">-0.3</text>
<text x="232.1" y="220.6" font-size="12" textLength="31.8" lengthAdjust="spacingAndGlyphs" fill="#131722">TP/SL</text>
<text x="672.1" y="282" font-size="12" textLength="20.7" lengthAdjust="spacingAndGlyphs" fill="#131722">-0.3</text>
<text x="666.6" y="295.5" font-size="12" textLength="31.8" lengthAdjust="spacingAndGlyphs" fill="#131722">TP/SL</text>
<text x="441.6" y="341.9" font-size="12" textLength="24.8" lengthAdjust="spacingAndGlyphs" fill="#131722" stroke="#f4f3ef" stroke-width="2" stroke-linejoin="round" paint-order="stroke" stroke-opacity="0.8">Long</text>
<text x="442.7" y="355.9" font-size="12" textLength="22.6" lengthAdjust="spacingAndGlyphs" fill="#131722" stroke="#f4f3ef" stroke-width="2" stroke-linejoin="round" paint-order="stroke" stroke-opacity="0.8">+0.3</text>
<text x="1058.6" y="168.2" font-size="12" textLength="24.8" lengthAdjust="spacingAndGlyphs" fill="#131722" stroke="#f4f3ef" stroke-width="2" stroke-linejoin="round" paint-order="stroke" stroke-opacity="0.8">Long</text>
<text x="1059.9" y="182.0" font-size="12" textLength="22.6" lengthAdjust="spacingAndGlyphs" fill="#131722" stroke="#f4f3ef" stroke-width="2" stroke-linejoin="round" paint-order="stroke" stroke-opacity="0.8">+0.3</text>
</g>
<text x="1237.2" y="90.3" font-size="12" text-anchor="middle" fill="#131722">2,740.00</text>
<text x="1237.2" y="139.9" font-size="12" text-anchor="middle" fill="#131722">2,720.00</text>
<text x="1237.2" y="189.4" font-size="12" text-anchor="middle" fill="#131722">2,700.00</text>
<text x="1237.2" y="239.0" font-size="12" text-anchor="middle" fill="#131722">2,680.00</text>
<text x="1237.2" y="288.6" font-size="12" text-anchor="middle" fill="#131722">2,660.00</text>
<text x="1237.2" y="338.1" font-size="12" text-anchor="middle" fill="#131722">2,640.00</text>
<text x="1237.2" y="387.6" font-size="12" text-anchor="middle" fill="#131722">2,620.00</text>
<text x="1237.2" y="437.2" font-size="12" text-anchor="middle" fill="#131722">2,600.00</text>
<text x="1237.2" y="486.8" font-size="12" text-anchor="middle" fill="#131722">2,580.00</text>
<rect x="1206.5" y="119.5" width="59" height="16" rx="1.5" fill="#f4f3ef" stroke="#089981" stroke-width="1"/>
<text x="1237" y="131.7" font-size="12" text-anchor="middle" fill="#089981">2,723.83</text>
<rect x="1209.5" y="31" width="57" height="25.5" rx="4" fill="#ffffff"/>
<text x="1218.5" y="48.7" font-size="12" fill="#131722" textLength="19.7" lengthAdjust="spacingAndGlyphs">USD</text>
<text x="102.5" y="527" font-size="12" text-anchor="middle" fill="#131722">20</text>
<text x="193.5" y="527" font-size="12" text-anchor="middle" fill="#131722">24</text>
<text x="284.5" y="527" font-size="12" text-anchor="middle" fill="#131722">26</text>
<text x="422.5" y="527" font-size="12" text-anchor="middle" fill="#131722" font-weight="bold">Oct</text>
<text x="513.5" y="527" font-size="12" text-anchor="middle" fill="#131722">3</text>
<text x="605.5" y="527" font-size="12" text-anchor="middle" fill="#131722">7</text>
<text x="696.5" y="527" font-size="12" text-anchor="middle" fill="#131722">9</text>
<text x="788.5" y="527" font-size="12" text-anchor="middle" fill="#131722">11</text>
<text x="879.5" y="527" font-size="12" text-anchor="middle" fill="#131722">15</text>
<text x="971.5" y="527" font-size="12" text-anchor="middle" fill="#131722">17</text>
<text x="1062.5" y="527" font-size="12" text-anchor="middle" fill="#131722">21</text>
<text x="1154.5" y="527" font-size="12" text-anchor="middle" fill="#131722">23</text>
<text x="10.8" y="527" font-size="12" fill="#131722">8</text>
<text x="10.6" y="18.5" font-size="12.8" fill="#131722" textLength="88.1" lengthAdjust="spacingAndGlyphs">TheGoldenCircle</text><text x="102.7" y="18.5" font-size="12.8" fill="#131722" textLength="40.3" lengthAdjust="spacingAndGlyphs">created</text><text x="148" y="18.5" font-size="12.8" fill="#131722" textLength="23.2" lengthAdjust="spacingAndGlyphs">with</text><text x="175.9" y="18.5" font-size="12.8" fill="#131722" textLength="93.2" lengthAdjust="spacingAndGlyphs">TradingView.com,</text><text x="273.7" y="18.5" font-size="12.8" fill="#131722" textLength="18.6" lengthAdjust="spacingAndGlyphs">Apr</text><text x="297.5" y="18.5" font-size="12.8" fill="#131722" textLength="13.3" lengthAdjust="spacingAndGlyphs">14,</text><text x="316.9" y="18.5" font-size="12.8" fill="#131722" textLength="23.4" lengthAdjust="spacingAndGlyphs">2026</text><text x="346" y="18.5" font-size="12.8" fill="#131722" textLength="28.0" lengthAdjust="spacingAndGlyphs">10:47</text><text x="378.7" y="18.5" font-size="12.8" fill="#131722" textLength="50.6" lengthAdjust="spacingAndGlyphs">UTC+5:30</text>
<text x="18.2" y="45.5" font-size="12" fill="#131722" textLength="20.7" lengthAdjust="spacingAndGlyphs">Gold</text><text x="46.1" y="45.5" font-size="12" fill="#131722" textLength="22.6" lengthAdjust="spacingAndGlyphs">Spot</text><text x="74.9" y="45.5" font-size="12" fill="#131722" textLength="4.7" lengthAdjust="spacingAndGlyphs">/</text><text x="83.9" y="45.5" font-size="12" fill="#131722" textLength="20.6" lengthAdjust="spacingAndGlyphs">U.S.</text><text x="110" y="45.5" font-size="12" fill="#131722" textLength="30.1" lengthAdjust="spacingAndGlyphs">Dollar</text><text x="146.5" y="45.5" font-size="12" text-anchor="middle" fill="#131722">·</text><text x="153" y="45.5" font-size="12" fill="#131722" textLength="12.3" lengthAdjust="spacingAndGlyphs">4h</text><text x="171.5" y="45.5" font-size="12" text-anchor="middle" fill="#131722">·</text><text x="177.4" y="45.5" font-size="12" fill="#131722" textLength="60.6" lengthAdjust="spacingAndGlyphs">FOREX.com</text><text x="246.5" y="45.5" font-size="12" fill="#131722" textLength="28.8" lengthAdjust="spacingAndGlyphs">+2.03</text><text x="280.5" y="45.5" font-size="12" fill="#131722" textLength="43.8" lengthAdjust="spacingAndGlyphs">(+0.04%)</text>
<text x="18.2" y="62.7" font-size="12" fill="#131722" textLength="20.7" lengthAdjust="spacingAndGlyphs">Gold</text><text x="46.8" y="62.7" font-size="12" fill="#131722" textLength="58.0" lengthAdjust="spacingAndGlyphs">Momentum</text><text x="110" y="62.7" font-size="12" fill="#131722" textLength="23.1" lengthAdjust="spacingAndGlyphs">Edge</text><text x="138" y="62.7" font-size="12" fill="#131722" textLength="12.4" lengthAdjust="spacingAndGlyphs">v9</text><text x="155.5" y="62.7" font-size="12" fill="#131722" textLength="51.6" lengthAdjust="spacingAndGlyphs">[Strategy]</text>
<g transform="translate(12.2,555.8) scale(0.835,0.806)" fill="#131313"><path d="M14 22H7V11H0V4h14v18zM28 22h-8l7.5-18h8L28 22z"/><circle cx="20" cy="8" r="4"/></g>
<text x="49" y="573.6" font-size="20.3" font-weight="bold" fill="#131313" textLength="120.5" lengthAdjust="spacingAndGlyphs">TradingView</text>
</svg>
</body></html>
